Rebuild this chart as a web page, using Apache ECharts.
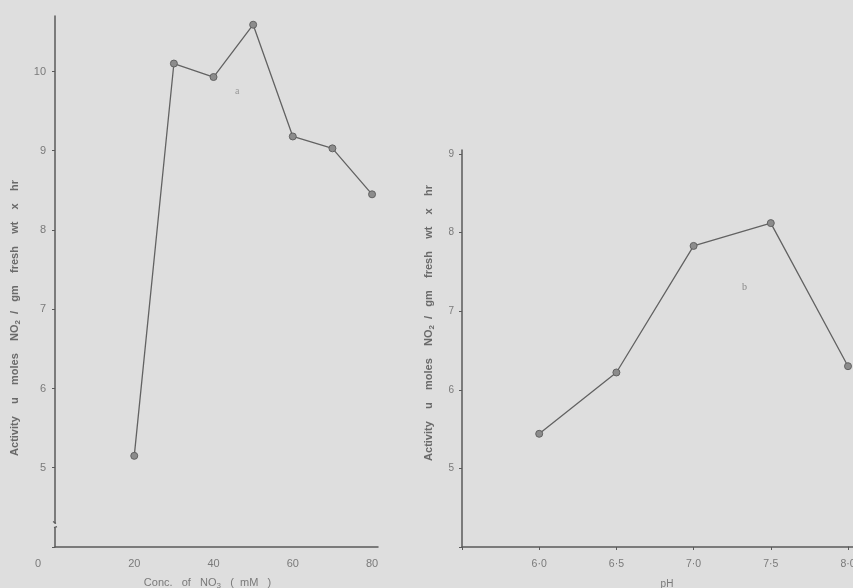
<!DOCTYPE html>
<html>
<head>
<meta charset="utf-8">
<script src="https://cdn.jsdelivr.net/npm/echarts@6/dist/echarts.min.js"></script>
<style>
html,body{margin:0;padding:0;background:#dedede;}
#c{width:853px;height:588px;}
</style>
</head>
<body>
<div id="c"></div>
<script>
// Panel a: activity vs nitrate concentration
var concNO3 = [20, 30, 40, 50, 60, 70, 80];
var activityA = [5.15, 10.10, 9.93, 10.59, 9.18, 9.03, 8.45];
// Panel b: activity vs pH
var pH = [6.0, 6.5, 7.0, 7.5, 8.0];
var activityB = [5.44, 6.22, 7.83, 8.12, 6.30];

var yTitle = '{t|Activity    u    moles    NO}{s|2}{t|  /   gm    fresh    wt    x    hr}';

var ink = '#5a5a5a';
var txt = '#7a7a7a';
var richTitle = {
  t: {fontSize: 11, color: '#6a6a6a', fontFamily: 'Liberation Sans', fontWeight: 'bold'},
  s: {fontSize: 8, color: '#6a6a6a', fontFamily: 'Liberation Sans', fontWeight: 'bold', verticalAlign: 'bottom', padding: [6, 0, 0, 0]}
};

var chart = echarts.init(document.getElementById('c'));
var option = {
  backgroundColor: '#dedede',
  animation: false,
  grid: [
    {left: 55, top: 16, width: 323, height: 531, containLabel: false, outerBoundsMode: 'none'},
    {left: 462, top: 150, width: 386, height: 397, containLabel: false, outerBoundsMode: 'none'}
  ],
  xAxis: [
    {
      gridIndex: 0, type: 'value', min: 0, max: 81.5, interval: 20,
      splitLine: {show: false},
      axisLine: {lineStyle: {color: ink, width: 1.5}},
      axisTick: {show: false},
      axisLabel: {
        color: txt, fontSize: 11, fontFamily: 'Liberation Sans', margin: 11,
        formatter: function (v) { return v === 0 ? '{z|0}' : String(v); },
        rich: {z: {color: txt, fontSize: 11, fontFamily: 'Liberation Sans', padding: [0, 34, 0, 0]}}
      },
      name: '{t|Conc.   of   NO}{s|3}{t|   (  mM   )}',
      nameLocation: 'middle', nameGap: 29,
      nameTextStyle: {padding: [0, 18, 0, 0], rich: {
        t: {fontSize: 11, color: txt, fontFamily: 'Liberation Sans'},
        s: {fontSize: 8, color: txt, fontFamily: 'Liberation Sans', verticalAlign: 'bottom', padding: [6, 0, 0, 0]}
      }}
    },
    {
      gridIndex: 1, type: 'value', min: 5.5, max: 8.0, interval: 0.5,
      splitLine: {show: false},
      axisLine: {lineStyle: {color: ink, width: 1.5}},
      axisTick: {show: true, length: 3, lineStyle: {color: ink}},
      axisLabel: {
        color: txt, fontSize: 10.5, fontFamily: 'Liberation Sans', margin: 12,
        showMaxLabel: true,
        formatter: function (v) { return v < 5.9 ? '' : v.toFixed(1).replace('.', '\u00b7'); }
      },
      name: 'pH', nameLocation: 'middle', nameGap: 32,
      nameTextStyle: {color: txt, fontSize: 10, fontFamily: 'Liberation Sans', padding: [0, 0, 0, 24]}
    }
  ],
  yAxis: [
    {
      gridIndex: 0, type: 'value', min: 4, max: 10.7, interval: 1,
      splitLine: {show: false},
      axisLine: {lineStyle: {color: ink, width: 1.5}},
      axisTick: {show: true, length: 3, lineStyle: {color: ink}},
      axisLabel: {
        color: txt, fontSize: 11, fontFamily: 'Liberation Sans', margin: 9,
        showMaxLabel: false,
        formatter: function (v) { return (v < 4.5 || v > 10.5) ? '' : String(v); }
      },
      name: yTitle, nameLocation: 'middle', nameRotate: 90, nameGap: 33,
      nameTextStyle: {padding: [0, 73, 0, 0], rich: richTitle}
    },
    {
      gridIndex: 1, type: 'value', min: 4, max: 9.05, interval: 1,
      splitLine: {show: false},
      axisLine: {lineStyle: {color: ink, width: 1.5}},
      axisTick: {show: true, length: 3, lineStyle: {color: ink}},
      axisLabel: {
        color: txt, fontSize: 10, fontFamily: 'Liberation Sans', margin: 8,
        formatter: function (v) { return v < 4.5 ? '' : String(v); }
      },
      name: yTitle, nameLocation: 'middle', nameRotate: 90, nameGap: 26,
      nameTextStyle: {padding: [0, 0, 0, 51], rich: richTitle}
    }
  ],
  series: [
    {
      type: 'line', xAxisIndex: 0, yAxisIndex: 0,
      data: concNO3.map(function (x, i) { return [x, activityA[i]]; }),
      symbol: 'circle', symbolSize: 7,
      lineStyle: {color: '#626262', width: 1.3},
      itemStyle: {color: '#8c8c8c', borderColor: '#626262', borderWidth: 1}
    },
    {
      type: 'line', xAxisIndex: 1, yAxisIndex: 1,
      data: pH.map(function (x, i) { return [x, activityB[i]]; }),
      symbol: 'circle', symbolSize: 7,
      lineStyle: {color: '#626262', width: 1.3},
      itemStyle: {color: '#8c8c8c', borderColor: '#626262', borderWidth: 1}
    }
  ]
};
chart.setOption(option);

// axis break on panel a's y axis, x-axis extension on panel b, and panel labels
var p1 = chart.convertToPixel({gridIndex: 0}, [0, 4.27]);
var pe = chart.convertToPixel({gridIndex: 1}, [8.0, 4]);
var pa = chart.convertToPixel({gridIndex: 0}, [46, 9.75]);
var pb = chart.convertToPixel({gridIndex: 1}, [7.33, 7.3]);
chart.setOption({
  graphic: [
    {type: 'rect', shape: {x: p1[0] - 3, y: p1[1] - 2, width: 6, height: 4}, style: {fill: '#dedede'}, z: 100},
    {type: 'polyline', shape: {points: [[p1[0] - 2, p1[1] - 4], [p1[0] + 1, p1[1] - 2]]}, style: {stroke: ink, lineWidth: 1.2, fill: null}, z: 101},
    {type: 'polyline', shape: {points: [[p1[0] - 1, p1[1] + 2], [p1[0] + 2, p1[1] + 1]]}, style: {stroke: ink, lineWidth: 1.2, fill: null}, z: 101},
    {type: 'line', shape: {x1: pe[0], y1: pe[1], x2: 853, y2: pe[1]}, style: {stroke: ink, lineWidth: 1.5}, z: 50},
    {type: 'text', x: pa[0], y: pa[1], style: {text: 'a', fill: '#999', fontSize: 10, fontFamily: 'Liberation Serif', align: 'center', verticalAlign: 'middle'}},
    {type: 'text', x: pb[0], y: pb[1], style: {text: 'b', fill: '#888', fontSize: 10, fontFamily: 'Liberation Serif', align: 'center', verticalAlign: 'middle'}}
  ]
});
</script>
</body>
</html>
